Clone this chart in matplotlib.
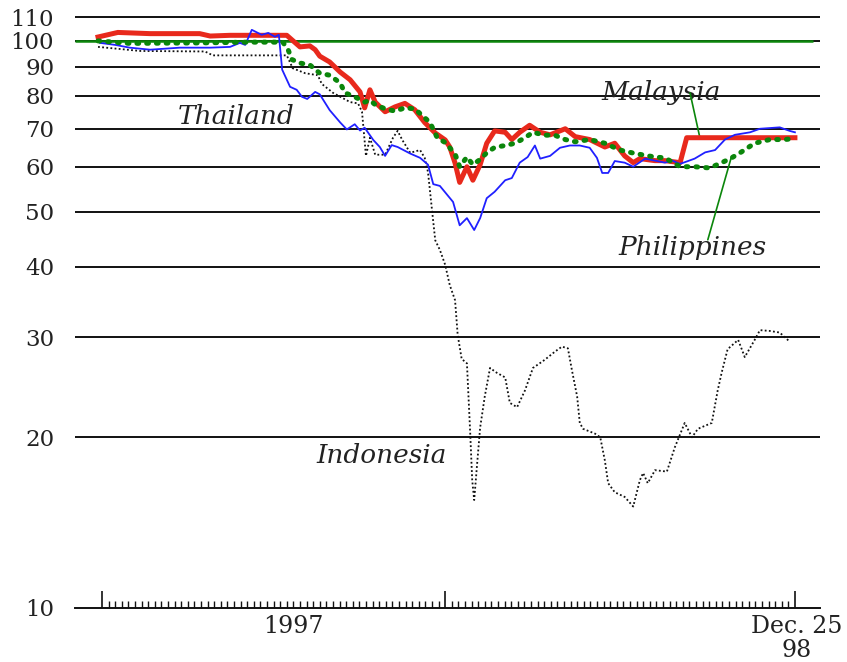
import matplotlib
matplotlib.use("Agg")
import matplotlib.pyplot as plt
from matplotlib.transforms import blended_transform_factory

# Currencies against the US dollar, weekly, index (log scale), weeks counted from start of 1997
malaysia_wk = [-0.6, 2.4, 7.3, 14.8, 16.4, 19.4, 27.0, 28.0, 30.0, 31.5, 32.3, 33.0, 34.5, 36.1,
               37.6, 39.1, 39.8, 40.6, 41.4, 42.9, 44.4, 45.9, 47.4, 48.9, 50.5, 52.0, 52.7, 53.5,
               54.2, 55.3, 56.2, 57.3, 58.3, 59.5, 61.1, 62.1, 63.3, 64.8, 66.4, 67.9, 70.2, 71.7,
               73.9, 76.2, 77.7, 79.2, 80.5, 81.5, 83.8, 85.3, 87.6, 88.6, 105.0]
malaysia = [101.6, 103.5, 103.0, 103.0, 102.0, 102.3, 102.3, 102.3, 97.6, 98.0, 96.5, 94.0, 91.8, 88.1,
            85.4, 81.3, 76.2, 82.0, 78.0, 75.0, 76.5, 77.6, 75.6, 71.8, 68.8, 66.9, 65.0, 60.9,
            56.3, 60.0, 56.8, 60.5, 66.0, 69.4, 69.0, 67.0, 69.0, 71.0, 69.0, 68.3, 70.0, 67.8,
            67.0, 65.0, 66.0, 62.7, 61.0, 62.0, 61.5, 61.5, 61.0, 67.5, 67.5]

philippines_wk = [-0.6, 4.2, 14.8, 22.4, 27.4, 28.2, 28.8, 30.0, 31.5, 33.0, 34.5, 36.1, 36.8, 38.3,
                  39.8, 40.6, 41.4, 42.9, 44.4, 45.9, 47.4, 49.7, 50.8, 52.0, 53.5, 54.2, 55.3, 56.2,
                  57.3, 58.3, 59.5, 61.1, 62.6, 64.1, 65.3, 67.1, 68.6, 70.2, 71.7, 73.9, 76.2, 78.5,
                  80.8, 83.8, 85.3, 87.6, 89.8, 92.1, 93.9, 95.2, 96.7, 98.9, 101.2, 103.5, 105.0]
philippines = [100.0, 99.0, 99.2, 99.5, 99.5, 96.5, 92.7, 91.4, 90.7, 87.7, 87.0, 84.3, 81.0, 79.7,
               78.0, 78.6, 77.2, 75.9, 75.2, 76.2, 75.9, 71.8, 67.5, 66.2, 63.2, 60.0, 62.4, 60.5,
               61.8, 63.5, 64.9, 65.4, 66.0, 67.5, 69.0, 68.2, 68.2, 67.0, 66.4, 67.0, 66.0, 64.2,
               63.3, 62.4, 62.2, 60.0, 60.0, 59.7, 61.0, 62.0, 63.5, 66.0, 67.0, 67.0, 67.3]

thailand_wk = [-0.3, 2.0, 4.2, 7.3, 11.8, 16.4, 19.4, 20.9, 21.7, 22.7, 24.2, 25.2, 26.2, 26.8, 27.3,
               28.5, 29.5, 30.3, 31.1, 32.3, 33.0, 34.5, 36.1, 37.1, 38.3, 39.1, 39.8, 41.1, 42.1,
               42.9, 43.9, 44.8, 46.7, 48.2, 49.4, 50.2, 51.2, 53.2, 54.2, 55.3, 56.4, 57.3, 58.3,
               59.5, 61.1, 62.1, 63.3, 64.5, 65.6, 66.4, 67.9, 69.4, 70.9, 72.4, 73.9, 75.0, 75.8,
               76.7, 77.7, 79.2, 80.5, 82.3, 83.8, 85.3, 86.4, 87.6, 88.8, 89.8, 91.4, 92.9, 94.4,
               95.9, 98.2, 99.7, 102.7, 104.2, 105.0]
thailand = [99.2, 98.4, 97.3, 96.5, 97.3, 97.3, 97.6, 99.2, 98.4, 104.6, 102.5, 103.3, 101.7, 102.5, 89.0,
            83.0, 82.0, 79.7, 79.0, 81.3, 80.5, 75.5, 71.8, 69.8, 71.3, 69.5, 70.3, 66.9, 65.0,
            62.7, 65.5, 65.0, 63.3, 62.2, 60.5, 55.9, 55.5, 52.0, 47.3, 48.7, 46.4, 48.7, 52.8,
            54.2, 56.8, 57.3, 61.0, 62.4, 65.4, 62.0, 62.7, 64.8, 65.4, 65.4, 64.8, 62.2, 58.5,
            58.5, 61.4, 61.0, 60.0, 62.0, 61.5, 61.0, 61.5, 60.7, 61.4, 62.0, 63.6, 64.2, 67.0,
            68.3, 69.0, 70.0, 70.4, 69.4, 69.0]

indonesia_wk = [-0.6, 5.8, 15.6, 16.8, 28.0, 28.9, 30.8, 32.7, 33.3, 35.0, 37.6, 38.8, 39.4, 40.0,
                40.6, 41.4, 42.9, 44.1, 44.8, 45.5, 46.7, 48.2, 48.9, 49.4, 50.0, 50.5, 51.2, 52.0,
                52.7, 53.5, 53.9, 54.5, 55.3, 55.8, 56.1, 56.4, 56.8, 57.3, 58.0, 58.8, 59.8, 61.1,
                61.8, 62.9, 64.1, 65.3, 67.1, 68.6, 69.7, 70.6, 71.2, 72.0, 72.4, 72.9, 74.7, 75.5,
                76.2, 76.7, 77.7, 79.2, 80.5, 81.5, 82.0, 82.7, 83.8, 85.6, 86.8, 88.3, 89.4, 90.3,
                92.4, 93.3, 93.9, 94.8, 96.4, 97.4, 98.9, 99.7, 101.2, 102.7, 103.5, 104.2]
indonesia = [97.6, 96.0, 95.8, 94.3, 94.3, 89.5, 87.7, 87.0, 84.0, 81.0, 78.0, 77.6, 75.0, 62.7,
             67.5, 63.0, 63.0, 67.5, 69.4, 66.9, 63.5, 64.2, 62.2, 58.7, 50.4, 44.5, 42.8, 40.3,
             37.1, 34.9, 30.3, 27.5, 27.0, 20.3, 16.8, 15.5, 17.7, 20.8, 23.6, 26.5, 26.0, 25.5,
             23.0, 22.6, 24.2, 26.5, 27.4, 28.3, 28.9, 28.7, 26.3, 23.6, 21.2, 20.7, 20.3, 20.0,
             18.2, 16.6, 16.0, 15.7, 15.1, 16.8, 17.3, 16.6, 17.5, 17.4, 19.2, 21.2, 20.0, 20.7,
             21.2, 24.2, 26.0, 28.6, 29.7, 27.7, 29.7, 30.9, 30.8, 30.6, 30.0, 29.5]

grid_levels = [20, 30, 40, 50, 60, 70, 80, 90, 100, 110]
ytick_values = [10, 20, 30, 40, 50, 60, 70, 80, 90, 100, 110]
ytick_labels = ["10", "20", "30", "40", "50", "60", "70", "80", "90", "100", "110"]
year_ticks = [0, 52, 105]
last_week = 105

RED = "#e8291c"
BLUE = "#2020ff"
GREEN = "#0b860b"
BLACK = "#111111"
TEXT = "#222222"

W, H, DPI = 847, 662, 100
fig = plt.figure(figsize=(W / DPI, H / DPI), dpi=DPI)
ax = fig.add_axes([75 / W, (H - 608) / H, (820 - 75) / W, 603 / H])
ax.set_yscale("log")
ax.set_ylim(10, 115.7)
ax.set_xlim(-4.09, 108.8)

# horizontal grid
for lv in grid_levels:
    ax.axhline(lv, color=BLACK, lw=1.4, zorder=1)
ax.plot([-4.09, 107.7], [100, 100], color=GREEN, lw=1.8, zorder=2, solid_capstyle="butt")

# series
ax.plot(indonesia_wk, indonesia, color=BLACK, lw=1.3, linestyle=(0, (1.0, 1.3)), zorder=3)
ax.plot(malaysia_wk, malaysia, color=RED, lw=3.6, zorder=4, solid_joinstyle="round")
ax.plot(thailand_wk, thailand, color=BLUE, lw=1.3, zorder=5)
ax.plot(philippines_wk, philippines, color=GREEN, lw=3.6, linestyle=(0, (0.35, 1.6)),
        dash_capstyle="round", zorder=6)

# axes styling
for s in ("top", "right", "left"):
    ax.spines[s].set_visible(False)
ax.spines["bottom"].set_linewidth(1.4)
ax.spines["bottom"].set_color(BLACK)

ax.set_yticks(ytick_values)
ax.set_yticklabels(ytick_labels)
ax.yaxis.set_minor_locator(matplotlib.ticker.NullLocator())
ax.tick_params(axis="y", which="both", length=0, pad=15, labelsize=16.5, labelcolor=TEXT)
for lab in ax.get_yticklabels():
    lab.set_fontfamily("DejaVu Serif")

ax.set_xticks(year_ticks)
ax.set_xticklabels([])
ax.set_xticks(list(range(0, last_week + 1)), minor=True)
ax.tick_params(axis="x", which="major", direction="in", length=12, width=1.2, color=BLACK)
ax.tick_params(axis="x", which="minor", direction="in", length=5, width=1.0, color=BLACK)

trans = blended_transform_factory(ax.transData, ax.transAxes)
serif = "DejaVu Serif"
ax.text(29, -0.012, "1997", transform=trans, ha="center", va="top", fontsize=17,
        family=serif, color=TEXT)
ax.text(112.2, -0.012, "Dec. 25", transform=trans, ha="right", va="top", fontsize=17,
        family=serif, color=TEXT)
ax.text(105.3, -0.052, "98", transform=trans, ha="center", va="top", fontsize=17,
        family=serif, color=TEXT)

# series labels
lab_kw = dict(fontsize=19, family=serif, style="italic", color=TEXT, ha="center", va="center")
ax.text(20.4, 73.5, "Thailand", **lab_kw)
ax.text(84.7, 81.0, "Malaysia", **lab_kw)
ax.text(89.5, 43.2, "Philippines", **lab_kw)
ax.text(42.4, 18.6, "Indonesia", **lab_kw)

# leader lines
ax.annotate("", xy=(90.6, 67.5), xytext=(89.1, 81.0),
            arrowprops=dict(arrowstyle="-", color=GREEN, lw=1.2, shrinkA=0, shrinkB=0))
ax.annotate("", xy=(95.3, 62.0), xytext=(91.8, 44.6),
            arrowprops=dict(arrowstyle="-", color=GREEN, lw=1.2, shrinkA=0, shrinkB=0))

fig.savefig("out.png", dpi=DPI)
